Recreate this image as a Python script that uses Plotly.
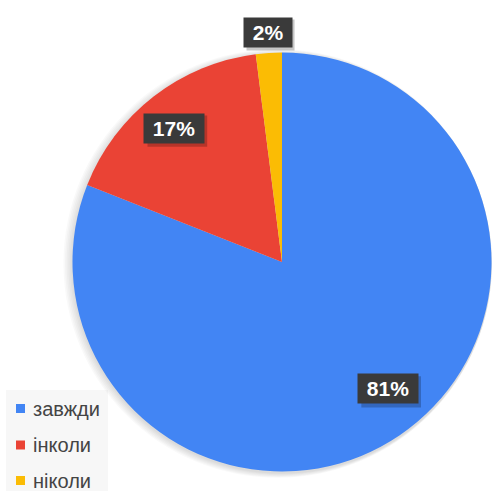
import math
import plotly.graph_objects as go

# ---- data ----
categories = ["завжди", "інколи", "ніколи"]
values = [81, 17, 2]
colors = ["#4285F4", "#EA4335", "#FBBC04"]

# ---- layout constants ----
W, H = 492, 491
CX, CY, R = 282.0, 262.0, 209.5           # pie centre / radius in px
LABEL_RADIUS = [0.79, 0.82, 1.10]          # label distance (fraction of R)
LABEL_ANGLE_ADJ = [-5.7, -1.0, 0.0]        # degrees
FONT = "Liberation Sans, Arial, sans-serif"
LABEL_SIZE = 21
PAD = 3


def px_to_paper(x, y):
    return x / W, 1 - y / H


def domain_for(cx, cy, r):
    x0, y0 = px_to_paper(cx - r, cy + r)
    x1, y1 = px_to_paper(cx + r, cy - r)
    return dict(x=[max(0, x0), min(1, x1)], y=[max(0, y0), min(1, y1)])


def label_box_size(s):
    # approximate box of a bold label with nbsp padding
    w = 0.0
    for ch in s:
        w += 0.889 if ch == "%" else 0.556
    w = (w + 2 * 0.278) * LABEL_SIZE + 2 * PAD
    h = LABEL_SIZE * 1.2 + 2 * PAD
    return w, h


fig = go.Figure()

# soft shadow behind the pie
for k in range(1, 7):
    fig.add_trace(go.Pie(
        values=[1], labels=["s"], marker=dict(colors=["rgba(0,0,0,0.025)"], line=dict(width=0)),
        domain=domain_for(CX + 0.5, CY + 1.5, R + 1.6 * k), textinfo="none",
        hoverinfo="skip", showlegend=False, sort=False))

fig.add_trace(go.Pie(
    labels=categories, values=values, sort=False, direction="clockwise", rotation=0,
    marker=dict(colors=colors, line=dict(width=0)),
    textinfo="none", hoverinfo="label+percent", showlegend=False,
    domain=domain_for(CX, CY, R)))

shapes = []
annotations = []

# percentage labels
total = sum(values)
cum = 0
for i, v in enumerate(values):
    mid = (cum + v / 2) / total * 360 + LABEL_ANGLE_ADJ[i]
    cum += v
    rr = R * LABEL_RADIUS[i]
    lx = CX + rr * math.sin(math.radians(mid))
    ly = CY - rr * math.cos(math.radians(mid))
    pct = "%d%%" % round(v / total * 100)
    bw, bh = label_box_size(pct)
    sx0, sy0 = px_to_paper(lx - bw / 2 + 3, ly + bh / 2 + 3)
    sx1, sy1 = px_to_paper(lx + bw / 2 + 3, ly - bh / 2 + 3)
    shapes.append(dict(type="rect", xref="paper", yref="paper", x0=sx0, y0=sy0, x1=sx1, y1=sy1,
                       fillcolor="rgba(0,0,0,0.22)", line=dict(width=0)))
    px, py = px_to_paper(lx, ly)
    annotations.append(dict(x=px, y=py, xref="paper", yref="paper",
                            xanchor="center", yanchor="middle",
                            text="<b>&nbsp;%s&nbsp;</b>" % pct,
                            showarrow=False, bgcolor="#3a3a3a", borderpad=PAD,
                            font=dict(family=FONT, size=LABEL_SIZE, color="white")))

# custom legend
bx0, by0 = px_to_paper(6, 491)
bx1, by1 = px_to_paper(108, 390)
shapes.append(dict(type="rect", xref="paper", yref="paper", x0=bx0, y0=by0, x1=bx1, y1=by1,
                   fillcolor="#f7f7f7", line=dict(width=0), layer="below"))
LEG_Y = [408.5, 445.0, 480.5]
for i, name in enumerate(categories):
    yc = LEG_Y[i]
    sx0, sy0 = px_to_paper(16, yc + 4.5)
    sx1, sy1 = px_to_paper(25, yc - 4.5)
    shapes.append(dict(type="rect", xref="paper", yref="paper", x0=sx0, y0=sy0, x1=sx1, y1=sy1,
                       fillcolor=colors[i], line=dict(width=0)))
    tx, ty = px_to_paper(31, yc)
    annotations.append(dict(x=tx, y=ty, xref="paper", yref="paper", text=name, showarrow=False,
                            xanchor="left", yanchor="middle",
                            font=dict(family=FONT, size=20, color="#444444")))

fig.update_layout(
    width=W, height=H, margin=dict(l=0, r=0, t=0, b=0),
    paper_bgcolor="white", plot_bgcolor="white",
    showlegend=False, annotations=annotations, shapes=shapes)

fig.write_html("out.html", config={"displayModeBar": False},
               post_script="document.body.style.margin='0';")
